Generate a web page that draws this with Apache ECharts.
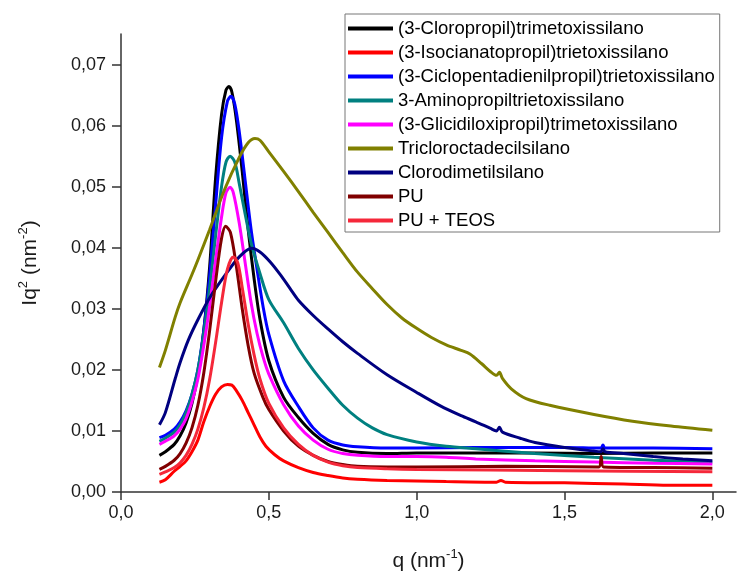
<!DOCTYPE html>
<html><head><meta charset="utf-8">
<script src="https://cdn.jsdelivr.net/npm/echarts@6/dist/echarts.min.js"></script>
<style>html,body{margin:0;padding:0;background:#fff}#c{width:737px;height:579px}</style>
</head><body><div id="c"></div>
<script>
const seriesNames = [
  '(3-Cloropropil)trimetoxissilano',
  '(3-Isocianatopropil)trietoxissilano',
  '(3-Ciclopentadienilpropil)trietoxissilano',
  '3-Aminopropiltrietoxissilano',
  '(3-Glicidiloxipropil)trimetoxissilano',
  'Tricloroctadecilsilano',
  'Clorodimetilsilano',
  'PU',
  'PU + TEOS'
];
const xTicks = [0, 0.5, 1.0, 1.5, 2.0];
const yTicks = [0, 0.01, 0.02, 0.03, 0.04, 0.05, 0.06, 0.07];

const cloropropil = [[0.13,0.0060],[0.15,0.0066],[0.18,0.0078],[0.20,0.0092],[0.22,0.0113],[0.24,0.0145],[0.26,0.0192],[0.28,0.0265],[0.30,0.0370],[0.32,0.0515],[0.34,0.0618],[0.355,0.0658],[0.365,0.0664],[0.375,0.0655],[0.39,0.0610],[0.41,0.0525],[0.43,0.0430],[0.45,0.0350],[0.47,0.0283],[0.50,0.0215],[0.55,0.0155],[0.60,0.0122],[0.65,0.0096],[0.70,0.0078],[0.75,0.0069],[0.80,0.0065],[0.90,0.0063],[1.00,0.0064],[1.20,0.0064],[1.40,0.0064],[1.60,0.0063],[1.80,0.0064],[2.00,0.0064]];
const isocianato = [[0.13,0.0016],[0.15,0.0020],[0.18,0.0034],[0.20,0.0042],[0.22,0.0051],[0.24,0.0066],[0.26,0.0085],[0.28,0.0115],[0.30,0.0140],[0.32,0.0160],[0.34,0.0172],[0.36,0.0176],[0.375,0.0175],[0.39,0.0166],[0.41,0.0150],[0.43,0.0130],[0.45,0.0110],[0.47,0.0090],[0.49,0.0075],[0.52,0.0061],[0.55,0.0051],[0.60,0.0040],[0.65,0.0032],[0.70,0.0027],[0.75,0.0023],[0.80,0.0021],[0.90,0.0019],[1.00,0.0018],[1.10,0.0017],[1.27,0.0016],[1.285,0.0019],[1.30,0.0016],[1.50,0.0015],[1.70,0.0013],[1.85,0.0011],[2.00,0.0011]];
const ciclopentadienil = [[0.13,0.0089],[0.15,0.0093],[0.18,0.0103],[0.20,0.0115],[0.22,0.0133],[0.24,0.0160],[0.26,0.0200],[0.28,0.0265],[0.30,0.0355],[0.32,0.0470],[0.34,0.0580],[0.36,0.0640],[0.372,0.0648],[0.385,0.0635],[0.40,0.0590],[0.42,0.0510],[0.44,0.0430],[0.46,0.0365],[0.48,0.0305],[0.50,0.0258],[0.55,0.0182],[0.60,0.0140],[0.65,0.0105],[0.70,0.0085],[0.75,0.0077],[0.80,0.0074],[0.90,0.0072],[1.00,0.0072],[1.20,0.0073],[1.50,0.0073],[1.623,0.0072],[1.63,0.0077],[1.637,0.0072],[1.80,0.0072],[2.00,0.0071]];
const aminopropil = [[0.13,0.0083],[0.15,0.0088],[0.18,0.0098],[0.20,0.0110],[0.22,0.0130],[0.24,0.0160],[0.26,0.0200],[0.28,0.0260],[0.30,0.0335],[0.32,0.0420],[0.34,0.0500],[0.355,0.0540],[0.369,0.0550],[0.385,0.0540],[0.40,0.0505],[0.42,0.0455],[0.44,0.0408],[0.47,0.0358],[0.50,0.0315],[0.55,0.0277],[0.60,0.0235],[0.65,0.0200],[0.70,0.0170],[0.75,0.0142],[0.80,0.0121],[0.85,0.0105],[0.90,0.0094],[1.00,0.0082],[1.10,0.0075],[1.20,0.0071],[1.40,0.0063],[1.60,0.0057],[1.80,0.0052],[2.00,0.0049]];
const glicidiloxi = [[0.13,0.0078],[0.15,0.0083],[0.18,0.0092],[0.20,0.0103],[0.22,0.0120],[0.24,0.0148],[0.26,0.0185],[0.28,0.0240],[0.30,0.0305],[0.32,0.0380],[0.34,0.0450],[0.355,0.0490],[0.369,0.0499],[0.38,0.0490],[0.40,0.0440],[0.42,0.0375],[0.44,0.0310],[0.46,0.0260],[0.48,0.0222],[0.50,0.0193],[0.55,0.0143],[0.60,0.0108],[0.65,0.0085],[0.70,0.0070],[0.75,0.0063],[0.80,0.0060],[0.90,0.0058],[1.00,0.0058],[1.10,0.0057],[1.20,0.0054],[1.40,0.0051],[1.60,0.0049],[1.80,0.0047],[2.00,0.0046]];
const tricloro = [[0.13,0.0204],[0.15,0.0232],[0.183,0.0286],[0.20,0.0310],[0.239,0.0355],[0.26,0.0380],[0.30,0.0430],[0.35,0.0495],[0.40,0.0548],[0.43,0.0572],[0.453,0.0579],[0.47,0.0576],[0.50,0.0557],[0.55,0.0525],[0.60,0.0492],[0.65,0.0458],[0.70,0.0425],[0.75,0.0392],[0.80,0.0360],[0.85,0.0333],[0.90,0.0307],[0.95,0.0285],[1.00,0.0268],[1.05,0.0253],[1.10,0.0241],[1.15,0.0232],[1.18,0.0226],[1.22,0.0210],[1.25,0.0197],[1.27,0.0191],[1.28,0.0196],[1.29,0.0186],[1.32,0.0169],[1.37,0.0153],[1.45,0.0142],[1.60,0.0127],[1.73,0.0116],[1.86,0.0108],[2.00,0.0101]];
const clorodimetil = [[0.13,0.0110],[0.15,0.0130],[0.183,0.0185],[0.20,0.0212],[0.228,0.0249],[0.26,0.0282],[0.30,0.0318],[0.352,0.0355],[0.40,0.0385],[0.442,0.0399],[0.47,0.0393],[0.504,0.0377],[0.54,0.0355],[0.572,0.0333],[0.60,0.0314],[0.65,0.0289],[0.70,0.0267],[0.75,0.0246],[0.80,0.0227],[0.90,0.0192],[1.00,0.0163],[1.08,0.0141],[1.15,0.0125],[1.20,0.0115],[1.25,0.0104],[1.27,0.0100],[1.28,0.0106],[1.29,0.0098],[1.35,0.0088],[1.40,0.0081],[1.50,0.0073],[1.60,0.0067],[1.623,0.0066],[1.63,0.0071],[1.637,0.0066],[1.70,0.0063],[1.80,0.0058],[1.90,0.0054],[2.00,0.0051]];
const pu = [[0.13,0.0037],[0.15,0.0042],[0.18,0.0052],[0.20,0.0063],[0.22,0.0080],[0.24,0.0105],[0.26,0.0142],[0.28,0.0195],[0.30,0.0265],[0.32,0.0345],[0.34,0.0415],[0.354,0.0435],[0.37,0.0425],[0.39,0.0370],[0.41,0.0300],[0.43,0.0240],[0.45,0.0195],[0.48,0.0155],[0.50,0.0135],[0.55,0.0100],[0.60,0.0075],[0.65,0.0060],[0.70,0.0050],[0.75,0.0045],[0.80,0.0042],[0.90,0.0041],[1.00,0.0041],[1.30,0.0042],[1.616,0.0041],[1.624,0.0058],[1.632,0.0041],[1.80,0.0040],[2.00,0.0039]];
const puTeos = [[0.13,0.0029],[0.15,0.0033],[0.18,0.0040],[0.20,0.0048],[0.22,0.0060],[0.24,0.0078],[0.26,0.0103],[0.28,0.0138],[0.30,0.0185],[0.32,0.0245],[0.34,0.0310],[0.36,0.0365],[0.38,0.0385],[0.395,0.0375],[0.41,0.0335],[0.43,0.0275],[0.45,0.0225],[0.47,0.0185],[0.50,0.0145],[0.55,0.0105],[0.60,0.0078],[0.65,0.0060],[0.70,0.0049],[0.75,0.0043],[0.80,0.0040],[0.90,0.0038],[1.00,0.0037],[1.50,0.0035],[2.00,0.0033]];

const dataList = [cloropropil, isocianato, ciclopentadienil, aminopropil, glicidiloxi, tricloro, clorodimetil, pu, puTeos];
const colors = ['#000000','#ff0000','#0000ff','#008080','#ff00ff','#808000','#000080','#800000','#f5283a'];
const FONT = '"Liberation Sans", Arial, sans-serif';

const chart = echarts.init(document.getElementById('c'), null, {renderer: 'canvas'});
const axisCommon = {
  axisLine: {lineStyle: {color: '#333', width: 1.5}},
  splitLine: {show: false}
};
chart.setOption({
  animation: false,
  grid: {left: 121, top: 34, width: 615, height: 468.5},
  xAxis: Object.assign({}, axisCommon, {
    type: 'value', min: 0, max: 2.08,
    axisTick: {customValues: xTicks, length: 8, lineStyle: {color: '#333', width: 1.5}},
    axisLabel: {customValues: xTicks, formatter: v => v.toFixed(1).replace('.', ','), fontSize: 18, color: '#1a1a1a', fontFamily: FONT, margin: 12},
    name: 'q (nm{s|-1})', nameLocation: 'middle', nameGap: 56,
    nameTextStyle: {fontSize: 21, color: '#1a1a1a', fontFamily: FONT, lineHeight: 26, verticalAlign: 'top',
      rich: {s: {fontSize: 13, fontFamily: FONT, color: '#1a1a1a', verticalAlign: 'top', lineHeight: 12}}}
  }),
  yAxis: Object.assign({}, axisCommon, {
    type: 'value', min: 0, max: 0.075,
    axisTick: {customValues: yTicks, length: 9, lineStyle: {color: '#333', width: 1.5}},
    axisLabel: {customValues: yTicks, formatter: v => v.toFixed(2).replace('.', ','), fontSize: 18, color: '#1a1a1a', fontFamily: FONT, margin: 15},
    name: 'Iq{s|2} (nm{s|-2})', nameLocation: 'middle', nameGap: 78,
    nameTextStyle: {fontSize: 21, color: '#1a1a1a', fontFamily: FONT, lineHeight: 26,
      rich: {s: {fontSize: 13, fontFamily: FONT, color: '#1a1a1a', verticalAlign: 'top', lineHeight: 12}}}
  }),
  legend: {
    orient: 'vertical', left: 345, top: 14,
    padding: [5, 5, 2, 3], itemGap: 5, itemWidth: 45, itemHeight: 4, icon: 'rect',
    selectedMode: false,
    borderColor: '#777', borderWidth: 1, backgroundColor: '#fff',
    textStyle: {fontSize: 18.5, lineHeight: 18, color: '#000', fontFamily: FONT},
    data: seriesNames
  },
  series: dataList.map((d, i) => ({
    name: seriesNames[i], type: 'line', data: d,
    showSymbol: false, symbol: 'none', smooth: 0.3,
    lineStyle: {color: colors[i], width: 3}, itemStyle: {color: colors[i]}
  }))
});
</script></body></html>
